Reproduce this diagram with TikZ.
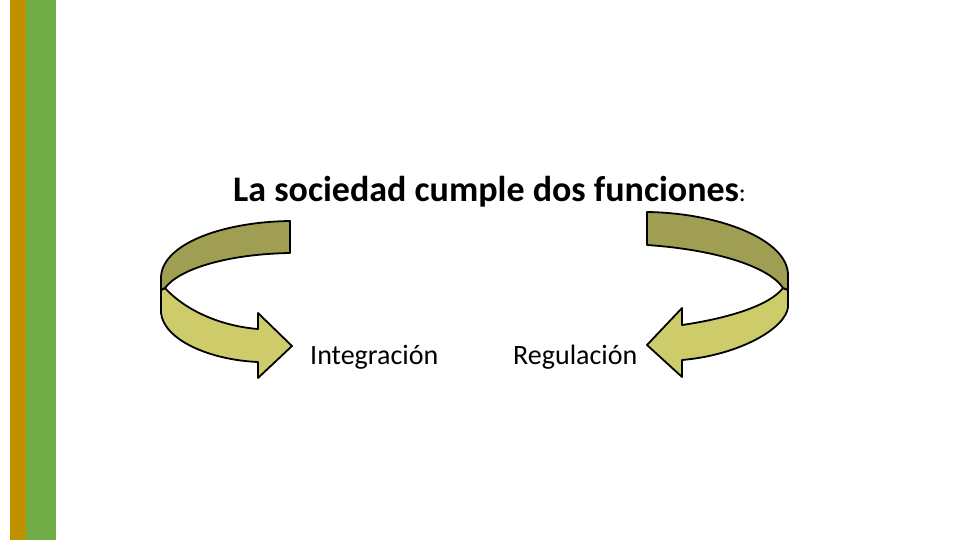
\documentclass[tikz,border=0pt]{standalone}
\usepackage{fontspec}
\setmainfont{Carlito}
\usepackage{tikz}
\usetikzlibrary{positioning}

\definecolor{barGold}{RGB}{191,144,0}
\definecolor{barGreen}{RGB}{112,173,71}
\definecolor{bandDark}{RGB}{160,158,82}
\definecolor{bandLight}{RGB}{205,203,106}

\begin{document}
\begin{tikzpicture}[x=1pt, y=-1pt]

    % Estilos
    \tikzstyle{backband}=[fill=bandDark, draw=black, line width=1.8pt, line join=round]
    \tikzstyle{frontband}=[fill=bandLight, draw=black, line width=1.8pt, line join=round]
    \tikzstyle{titulo}=[anchor=base west, inner sep=0pt, font=\fontsize{36}{43}\selectfont\bfseries]
    \tikzstyle{funcion}=[anchor=base west, inner sep=0pt, font=\fontsize{28}{34}\selectfont]

    \useasboundingbox (0,0) rectangle (960,540);

    % Barras laterales
    \fill[barGold] (10,0) rectangle (26,540);
    \fill[barGreen] (26,0) rectangle (56,540);

    % Textos
    \node[titulo] (titulo) at (233,201) {La sociedad cumple dos funciones{\mdseries\fontsize{26}{30}\selectfont:}};
    \node[funcion] (integ) at (310,364) {Integración};
    \node[funcion] (regul) at (513,364) {Regulación};

    % Flecha izquierda
    \filldraw[frontband] (161,290) -- (161,313) .. controls (164,340) and (210,360) .. (258,362)
        -- (258,378) -- (292,346) -- (258,313) -- (258,329)
        .. controls (220,326) and (185,310) .. (165,288) -- cycle;
    \filldraw[backband] (290,221) .. controls (220,222) and (161,245) .. (161,278) -- (161,290) -- (165,288)
        .. controls (180,268) and (230,254) .. (290,253) -- cycle;

    % Flecha derecha
    \filldraw[frontband] (788,290) -- (788,307) .. controls (786,328) and (740,355) .. (682,360)
        -- (682,377) -- (647,345) -- (682,308) -- (682,325)
        .. controls (730,318) and (770,305) .. (783,288) -- cycle;
    \filldraw[backband] (647,212) .. controls (720,213) and (788,240) .. (788,275) -- (788,290) -- (783,288)
        .. controls (770,268) and (720,250) .. (647,245) -- cycle;

\end{tikzpicture}
\end{document}
